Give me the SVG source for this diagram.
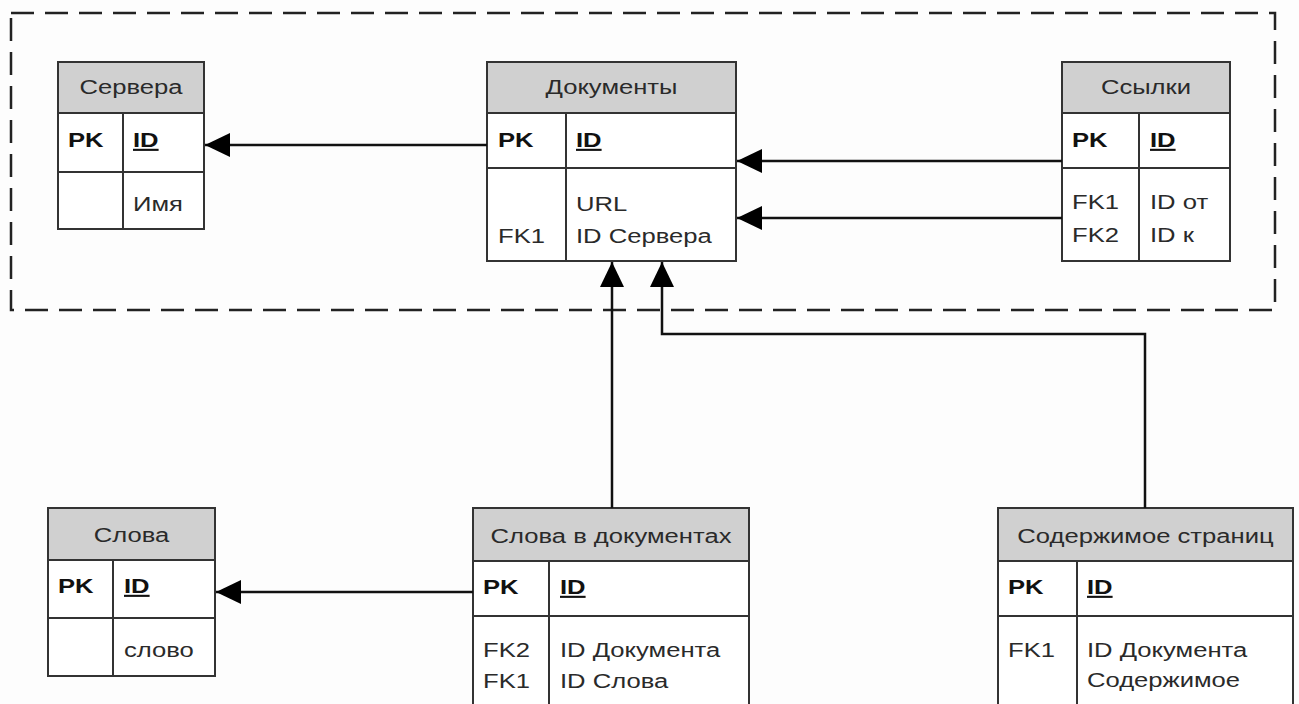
<svg xmlns="http://www.w3.org/2000/svg" width="1299" height="704" viewBox="0 0 1299 704">
<style>
.bg{fill:#fdfdfd}
.frame{fill:none;stroke:#222;stroke-width:2.5;stroke-dasharray:23 11}
.tbl{fill:#fff;stroke:#333;stroke-width:2}
.hdr{fill:#d0d0d0;stroke:#333;stroke-width:2}
.ln{stroke:#333;stroke-width:2;fill:none}
.t{font-family:"Liberation Sans",Arial,sans-serif;font-size:21px;fill:#2a2a2a}
.h{text-anchor:middle}
.b{font-weight:bold;fill:#111}
.u{text-decoration:underline}
.conn{stroke:#111;stroke-width:2.5;fill:none;marker-end:url(#arr)}
</style>
<defs>
<marker id="arr" markerUnits="userSpaceOnUse" markerWidth="26" markerHeight="24" refX="25" refY="12" orient="auto">
<path d="M0,0 L25,12 L0,24 z" fill="#000"/>
</marker>
</defs>
<rect class="bg" x="0" y="0" width="1299" height="704"/>
<rect class="frame" x="11" y="13" width="1264" height="297"/>

<g id="servers">
<rect class="tbl" x="58" y="62" width="146" height="167"/>
<rect class="hdr" x="58" y="62" width="146" height="51"/>
<line class="ln" x1="58" y1="172" x2="204" y2="172"/>
<line class="ln" x1="123" y1="113" x2="123" y2="229"/>
<text class="t h" transform="translate(131,94) scale(1.22,1)">Сервера</text>
<text class="t b" transform="translate(68,147) scale(1.22,1)">PK</text>
<text class="t b u" transform="translate(133,147) scale(1.22,1)">ID</text>
<text class="t" transform="translate(133,211) scale(1.22,1)">Имя</text>
</g>

<g id="documents">
<rect class="tbl" x="487" y="62" width="249" height="199"/>
<rect class="hdr" x="487" y="62" width="249" height="51"/>
<line class="ln" x1="487" y1="168" x2="736" y2="168"/>
<line class="ln" x1="566" y1="113" x2="566" y2="261"/>
<text class="t h" transform="translate(611.5,94) scale(1.22,1)">Документы</text>
<text class="t b" transform="translate(498,147) scale(1.22,1)">PK</text>
<text class="t b u" transform="translate(576,147) scale(1.22,1)">ID</text>
<text class="t" transform="translate(576,211) scale(1.22,1)">URL</text>
<text class="t" transform="translate(498,243) scale(1.22,1)">FK1</text>
<text class="t" transform="translate(576,243) scale(1.22,1)">ID Сервера</text>
</g>

<g id="links">
<rect class="tbl" x="1062" y="62" width="168" height="199"/>
<rect class="hdr" x="1062" y="62" width="168" height="51"/>
<line class="ln" x1="1062" y1="168" x2="1230" y2="168"/>
<line class="ln" x1="1139" y1="113" x2="1139" y2="261"/>
<text class="t h" transform="translate(1146,94) scale(1.22,1)">Ссылки</text>
<text class="t b" transform="translate(1072,147) scale(1.22,1)">PK</text>
<text class="t b u" transform="translate(1150,147) scale(1.22,1)">ID</text>
<text class="t" transform="translate(1072,209) scale(1.22,1)">FK1</text>
<text class="t" transform="translate(1150,209) scale(1.22,1)">ID от</text>
<text class="t" transform="translate(1072,242) scale(1.22,1)">FK2</text>
<text class="t" transform="translate(1150,242) scale(1.22,1)">ID к</text>
</g>

<g id="words">
<rect class="tbl" x="48" y="508" width="167" height="168"/>
<rect class="hdr" x="48" y="508" width="167" height="52"/>
<line class="ln" x1="48" y1="618" x2="215" y2="618"/>
<line class="ln" x1="113" y1="560" x2="113" y2="676"/>
<text class="t h" transform="translate(131.5,542) scale(1.22,1)">Слова</text>
<text class="t b" transform="translate(58,593) scale(1.22,1)">PK</text>
<text class="t b u" transform="translate(124,593) scale(1.22,1)">ID</text>
<text class="t" transform="translate(124,657) scale(1.22,1)">слово</text>
</g>

<g id="words-in-docs">
<rect class="tbl" x="473" y="508" width="276" height="220"/>
<rect class="hdr" x="473" y="508" width="276" height="53"/>
<line class="ln" x1="473" y1="616" x2="749" y2="616"/>
<line class="ln" x1="549" y1="561" x2="549" y2="728"/>
<text class="t h" transform="translate(611,543) scale(1.22,1)">Слова в документах</text>
<text class="t b" transform="translate(483,594) scale(1.22,1)">PK</text>
<text class="t b u" transform="translate(560,594) scale(1.22,1)">ID</text>
<text class="t" transform="translate(483,657) scale(1.22,1)">FK2</text>
<text class="t" transform="translate(560,657) scale(1.22,1)">ID Документа</text>
<text class="t" transform="translate(483,688) scale(1.22,1)">FK1</text>
<text class="t" transform="translate(560,688) scale(1.22,1)">ID Слова</text>
</g>

<g id="page-content">
<rect class="tbl" x="998" y="508" width="295" height="220"/>
<rect class="hdr" x="998" y="508" width="295" height="53"/>
<line class="ln" x1="998" y1="616" x2="1293" y2="616"/>
<line class="ln" x1="1077" y1="561" x2="1077" y2="728"/>
<text class="t h" transform="translate(1145.5,543) scale(1.22,1)">Содержимое страниц</text>
<text class="t b" transform="translate(1008,594) scale(1.22,1)">PK</text>
<text class="t b u" transform="translate(1087,594) scale(1.22,1)">ID</text>
<text class="t" transform="translate(1008,657) scale(1.22,1)">FK1</text>
<text class="t" transform="translate(1087,657) scale(1.22,1)">ID Документа</text>
<text class="t" transform="translate(1087,687) scale(1.22,1)">Содержимое</text>
</g>

<g id="connectors">
<path class="conn" d="M487,145 L205,145"/>
<path class="conn" d="M1062,161 L737,161"/>
<path class="conn" d="M1062,218 L737,218"/>
<path class="conn" d="M473,592 L216,592"/>
<path class="conn" d="M612,508 L612,262"/>
<path class="conn" d="M1145,508 L1145,334 L662,334 L662,262"/>
</g>
</svg>
